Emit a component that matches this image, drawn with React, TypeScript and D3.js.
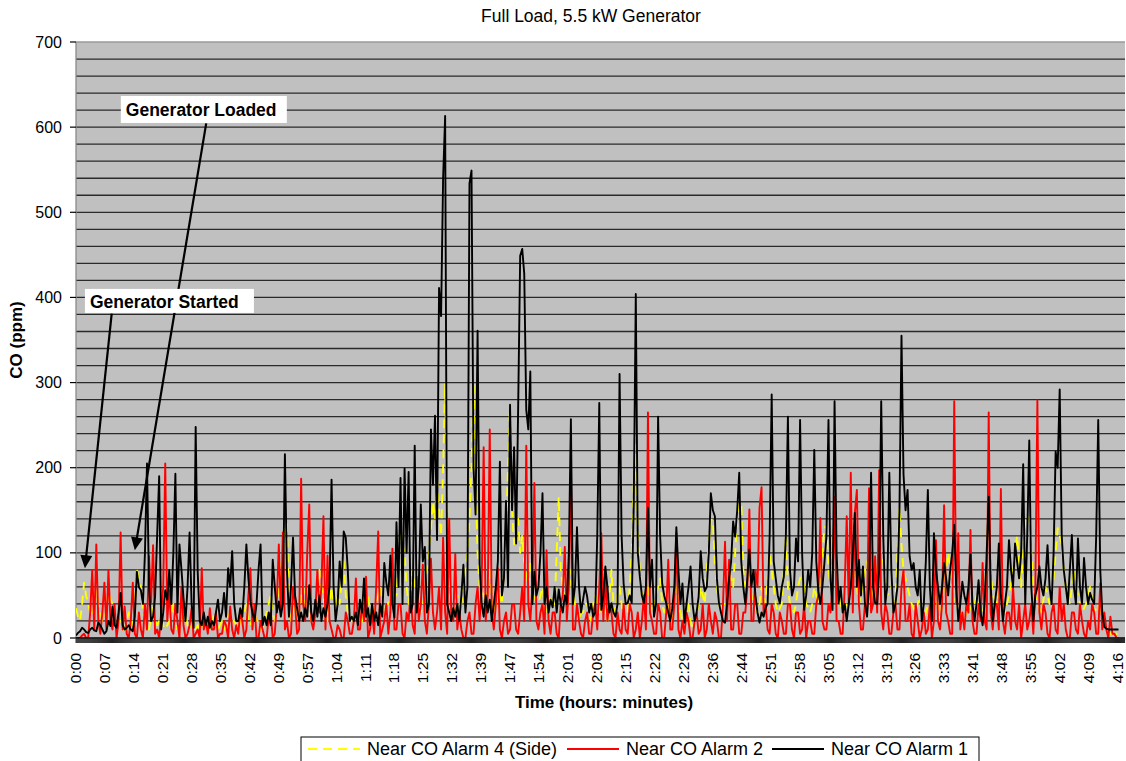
import React from 'react';
import * as d3 from 'd3';

const TITLE = 'Full Load, 5.5 kW Generator';
const X_TITLE = 'Time (hours: minutes)';
const Y_TITLE = 'CO (ppm)';

const xTickLabels = [
  '0:00', '0:07', '0:14', '0:21', '0:28', '0:35', '0:42', '0:49', '0:57', '1:04',
  '1:11', '1:18', '1:25', '1:32', '1:39', '1:47', '1:54', '2:01', '2:08', '2:15',
  '2:22', '2:29', '2:36', '2:44', '2:51', '2:58', '3:05', '3:12', '3:19', '3:26',
  '3:33', '3:41', '3:48', '3:55', '4:02', '4:09', '4:16',
];
const yTickValues = [0, 100, 200, 300, 400, 500, 600, 700];

const SAMPLE_MINUTES = 0.5;
const LABEL_STEP_MINUTES = 7.135;
const X_MAX_MINUTES = 258.6;
const Y_MAX = 700;
const GRID_STEP = 20;

// Near CO Alarm 4 (Side) — yellow dashed, one value every 30 s (10 minutes per row)
const alarm4Side = [
  35, 25, 20, 40, 65, 50, 40, 30, 25, 40, 55, 40, 30, 20, 20, 35, 55, 45, 40, 20,
  15, 20, 20, 10, 10, 20, 30, 20, 15, 40, 80, 70, 60, 30, 20, 15, 10, 25, 40, 20,
  15, 20, 25, 15, 10, 15, 20, 30, 40, 20, 10, 10, 15, 25, 30, 15, 10, 15, 20, 10,
  15, 10, 10, 20, 25, 20, 15, 10, 30, 20, 10, 15, 20, 10, 15, 25, 30, 20, 20, 15,
  10, 20, 25, 30, 40, 20, 15, 25, 30, 20, 20, 10, 10, 20, 30, 40, 50, 30, 20, 40,
  60, 80, 100, 130, 135, 40, 20, 30, 40, 20, 30, 50, 60, 40, 40, 30, 20, 25, 30, 50,
  80, 60, 50, 30, 20, 40, 60, 40, 30, 50, 40, 70, 90, 50, 30, 20, 20, 30, 40, 25,
  15, 20, 30, 40, 50, 30, 20, 30, 40, 50, 60, 40, 30, 40, 40, 60, 70, 50, 50, 90,
  130, 110, 100, 60, 40, 60, 80, 60, 60, 40, 30, 40, 50, 80, 100, 130, 160, 140, 190, 150,
  120, 200, 299, 150, 60, 40, 30, 40, 50, 40, 40, 60, 80, 100, 140, 200, 299, 180, 100, 60,
  60, 50, 40, 60, 80, 50, 30, 40, 60, 50, 40, 80, 120, 200, 274, 150, 110, 120, 140, 100,
  120, 90, 80, 60, 90, 70, 50, 40, 40, 50, 60, 40, 30, 40, 50, 40, 40, 100, 166, 80,
  60, 40, 30, 50, 80, 60, 40, 30, 20, 30, 30, 40, 40, 30, 20, 40, 50, 40, 30, 40,
  40, 30, 20, 50, 80, 40, 30, 50, 60, 40, 20, 25, 30, 60, 100, 180, 227, 120, 80, 50,
  40, 50, 60, 40, 30, 40, 50, 60, 70, 40, 30, 35, 40, 30, 20, 40, 60, 40, 30, 20,
  20, 30, 40, 20, 10, 20, 30, 40, 60, 50, 40, 80, 110, 139, 139, 90, 60, 40, 30, 40,
  40, 60, 80, 70, 60, 100, 140, 159, 159, 80, 60, 70, 80, 50, 40, 35, 30, 40, 60, 50,
  40, 70, 100, 80, 60, 40, 30, 35, 40, 80, 120, 60, 40, 35, 30, 40, 60, 70, 80, 60,
  40, 35, 30, 40, 60, 50, 40, 70, 100, 130, 130, 80, 60, 100, 140, 80, 50, 40, 30, 35,
  40, 50, 60, 70, 80, 60, 40, 50, 60, 80, 90, 70, 60, 50, 40, 80, 110, 100, 90, 70,
  50, 55, 60, 50, 40, 100, 153, 110, 80, 70, 60, 50, 40, 35, 30, 40, 50, 30, 20, 30,
  40, 35, 30, 40, 50, 35, 20, 40, 60, 80, 100, 80, 60, 50, 40, 35, 30, 25, 20, 30,
  40, 35, 30, 40, 50, 35, 20, 30, 40, 100, 155, 80, 50, 45, 40, 50, 60, 45, 30, 40,
  50, 65, 80, 100, 120, 90, 60, 100, 140, 143, 143, 100, 60, 50, 40, 35, 30, 45, 60, 50,
  40, 55, 70, 100, 129, 120, 110, 80, 60, 50, 40, 60, 80, 65, 50, 40, 30, 35, 40, 50,
  60, 45, 30, 35, 40, 30, 20, 15, 10, 8, 5, 5, 5, 5, 5,
];

// Near CO Alarm 2 — red
const alarm2 = [
  0, 0, 0, 3, 5, 0, 0, 30, 80, 10, 110, 20, 5, 30, 65, 10, 80, 20, 10, 40,
  0, 20, 124, 10, 37, 5, 0, 20, 65, 5, 0, 30, 10, 0, 40, 10, 96, 40, 109, 5,
  10, 0, 30, 60, 205, 20, 56, 10, 5, 40, 20, 0, 60, 15, 0, 5, 15, 35, 0, 5,
  10, 0, 82, 10, 20, 5, 35, 10, 10, 30, 0, 5, 5, 20, 15, 0, 37, 10, 0, 15,
  5, 30, 20, 0, 10, 50, 82, 10, 40, 0, 0, 20, 10, 0, 0, 25, 30, 0, 5, 40,
  110, 30, 124, 10, 20, 0, 5, 60, 40, 5, 10, 187, 40, 20, 100, 157, 20, 10, 30, 80,
  30, 60, 143, 10, 97, 20, 10, 0, 0, 15, 10, 0, 0, 30, 20, 5, 5, 20, 70, 10,
  10, 40, 20, 72, 0, 10, 30, 5, 60, 125, 0, 10, 20, 40, 5, 30, 105, 10, 10, 40,
  40, 5, 0, 30, 20, 55, 15, 5, 72, 20, 40, 86, 20, 5, 40, 93, 30, 10, 30, 60,
  10, 118, 30, 5, 140, 30, 20, 99, 10, 30, 10, 0, 0, 20, 30, 5, 5, 40, 60, 20,
  60, 224, 20, 50, 245, 30, 10, 40, 82, 10, 0, 20, 30, 5, 10, 40, 40, 10, 5, 30,
  60, 20, 226, 40, 20, 60, 182, 20, 10, 30, 40, 5, 103, 20, 5, 30, 30, 5, 0, 40,
  50, 107, 20, 60, 195, 10, 10, 40, 20, 5, 0, 20, 30, 5, 5, 30, 40, 10, 60, 123,
  20, 72, 20, 40, 30, 5, 0, 30, 10, 5, 40, 10, 5, 40, 30, 0, 10, 30, 0, 20,
  50, 10, 265, 30, 20, 5, 5, 40, 30, 0, 0, 30, 92, 10, 10, 40, 123, 10, 0, 20,
  5, 30, 20, 0, 0, 20, 30, 5, 10, 40, 0, 10, 40, 20, 5, 30, 20, 0, 0, 40,
  113, 20, 92, 10, 10, 40, 40, 5, 5, 30, 30, 60, 151, 20, 20, 80, 60, 153, 177, 30,
  40, 10, 5, 40, 30, 5, 0, 30, 20, 5, 5, 40, 40, 10, 0, 30, 30, 5, 10, 40,
  0, 20, 20, 5, 5, 40, 50, 141, 20, 10, 10, 40, 30, 60, 166, 20, 20, 5, 5, 60,
  143, 40, 194, 30, 147, 174, 40, 10, 10, 40, 30, 176, 30, 40, 96, 30, 197, 30, 10, 40,
  30, 5, 5, 30, 40, 10, 10, 60, 80, 20, 20, 40, 5, 0, 40, 20, 0, 10, 30, 5,
  10, 40, 0, 20, 115, 20, 10, 40, 156, 30, 20, 5, 5, 278, 40, 123, 10, 30, 10, 40,
  30, 127, 20, 5, 5, 40, 20, 88, 20, 10, 265, 30, 10, 40, 40, 10, 175, 20, 5, 30,
  30, 10, 60, 20, 10, 40, 0, 20, 40, 10, 20, 40, 5, 60, 279, 30, 10, 40, 30, 5,
  0, 30, 40, 10, 5, 60, 20, 40, 10, 0, 0, 30, 30, 10, 5, 40, 20, 5, 0, 20,
  10, 40, 30, 5, 5, 64, 10, 30, 10, 0, 25, 5, 5, 0, 0,
];

// Near CO Alarm 1 — black
const alarm1 = [
  3, 6, 8, 12, 10, 7, 6, 10, 12, 9, 8, 18, 15, 10, 5, 8, 20, 14, 37, 15,
  12, 30, 53, 15, 10, 12, 15, 10, 8, 25, 78, 60, 56, 40, 100, 205, 60, 20, 25, 49,
  120, 190, 10, 30, 56, 45, 80, 40, 100, 193, 30, 110, 80, 47, 20, 60, 124, 40, 12, 248,
  78, 20, 15, 30, 15, 25, 12, 20, 15, 30, 45, 20, 30, 53, 25, 82, 60, 102, 40, 20,
  20, 35, 25, 60, 110, 70, 43, 30, 20, 40, 80, 110, 15, 25, 15, 30, 15, 92, 60, 30,
  43, 25, 40, 216, 80, 25, 60, 118, 50, 35, 20, 30, 20, 35, 25, 62, 30, 20, 45, 25,
  50, 20, 35, 25, 40, 60, 186, 60, 20, 40, 90, 60, 125, 118, 80, 20, 25, 20, 30, 15,
  45, 30, 70, 25, 35, 15, 40, 20, 30, 15, 40, 25, 88, 65, 50, 97, 40, 24, 136, 60,
  188, 40, 199, 100, 195, 30, 40, 226, 30, 60, 157, 90, 107, 30, 40, 245, 180, 261, 115, 411,
  378, 540, 613, 40, 30, 20, 35, 25, 40, 20, 50, 86, 30, 60, 534, 549, 200, 145, 361, 86,
  40, 25, 50, 30, 45, 20, 40, 60, 90, 207, 50, 70, 161, 60, 274, 150, 224, 111, 270, 449,
  457, 428, 268, 245, 313, 40, 78, 50, 60, 100, 170, 40, 60, 30, 45, 36, 60, 30, 57, 40,
  30, 50, 40, 100, 257, 40, 60, 130, 60, 30, 45, 60, 49, 30, 40, 25, 30, 120, 276, 33,
  50, 84, 60, 30, 41, 30, 25, 40, 310, 120, 64, 40, 41, 50, 41, 158, 404, 100, 72, 50,
  41, 60, 153, 60, 92, 25, 40, 260, 120, 64, 50, 41, 30, 20, 35, 60, 130, 80, 40, 64,
  18, 40, 60, 84, 40, 20, 30, 49, 102, 70, 55, 60, 100, 170, 150, 143, 70, 41, 30, 20,
  18, 40, 70, 90, 137, 119, 150, 194, 90, 60, 40, 70, 104, 60, 80, 50, 30, 18, 30, 25,
  35, 41, 120, 286, 90, 70, 50, 41, 60, 72, 120, 260, 80, 50, 60, 117, 90, 256, 100, 33,
  50, 80, 60, 100, 221, 90, 55, 40, 60, 88, 120, 256, 70, 33, 278, 100, 41, 60, 30, 40,
  20, 40, 60, 100, 147, 60, 92, 50, 84, 40, 25, 60, 194, 60, 41, 40, 80, 278, 120, 40,
  60, 194, 80, 30, 40, 60, 150, 355, 192, 150, 174, 96, 80, 88, 60, 50, 80, 20, 40, 90,
  174, 60, 20, 123, 80, 60, 40, 60, 88, 70, 50, 80, 100, 133, 60, 20, 40, 66, 50, 40,
  60, 98, 40, 20, 40, 68, 30, 15, 40, 100, 166, 60, 20, 40, 60, 111, 50, 20, 40, 60,
  115, 80, 60, 111, 90, 70, 100, 204, 40, 120, 232, 60, 20, 50, 60, 84, 60, 50, 70, 109,
  60, 40, 100, 219, 200, 292, 120, 80, 60, 40, 80, 121, 60, 40, 117, 60, 40, 94, 60, 40,
  53, 45, 40, 120, 256, 80, 30, 13, 11, 10, 10, 10, 10, 10, 10,
];

const seriesDefs = [
  { name: 'Near CO Alarm 4 (Side)', values: alarm4Side, color: '#ffff00', dash: '9,6' as string | null },
  { name: 'Near CO Alarm 2', values: alarm2, color: '#ff0000', dash: null as string | null },
  { name: 'Near CO Alarm 1', values: alarm1, color: '#000000', dash: null as string | null },
];

const annotations = [
  { text: 'Generator Loaded', boxT: 11.05, boxV: 636.6, boxW: 166, boxH: 27, baseline: 20, tailT: 32.1, tailV: 604.5, tipT: 14.5, tipV: 103 },
  { text: 'Generator Started', boxT: 2.2, boxV: 410, boxW: 169, boxH: 24, baseline: 19, tailT: 8.8, tailV: 381, tipT: 2.2, tipV: 82 },
];

const FONT = '"Liberation Sans", Arial, Helvetica, sans-serif';

export default function App() {
  const W = 1126;
  const H = 761;
  const plot = { left: 76, right: 1125, top: 42, bottom: 638 };

  const x = d3.scaleLinear().domain([0, X_MAX_MINUTES]).range([plot.left, plot.right]);
  const y = d3.scaleLinear().domain([0, Y_MAX]).range([plot.bottom, plot.top]);

  const gridValues = d3.range(GRID_STEP, Y_MAX, GRID_STEP);
  const lineGen = d3
    .line<number>()
    .x((_, i) => x(i * SAMPLE_MINUTES))
    .y((d) => y(d));

  const catTicks = d3.range(0, X_MAX_MINUTES, 0.25);
  const catTickPath = catTicks
    .map((t) => `M${x(t).toFixed(2)},${plot.bottom}V${plot.bottom + 5}`)
    .join('');

  const legend = { left: 301, top: 737, right: 979, lineY: 749 };
  const legendItems = [
    { lx: 308, tx: 367 },
    { lx: 567, tx: 626 },
    { lx: 772, tx: 831 },
  ];

  return (
    <svg
      width={W}
      height={H}
      style={{ position: 'absolute', left: 0, top: 0, background: '#ffffff' }}
      fontFamily={FONT}
    >
      <defs>
        <clipPath id="plotClip">
          <rect x={plot.left} y={plot.top - 2} width={plot.right - plot.left} height={plot.bottom - plot.top + 2} />
        </clipPath>
      </defs>
      <rect x={0} y={0} width={W} height={H} fill="#ffffff" />

      <text x={591} y={22} textAnchor="middle" fontSize={17.5} fill="#000">
        {TITLE}
      </text>

      <rect
        x={plot.left}
        y={plot.top}
        width={plot.right - plot.left}
        height={plot.bottom - plot.top}
        fill="#c0c0c0"
      />

      {gridValues.map((v) => (
        <line
          key={v}
          x1={plot.left}
          x2={plot.right}
          y1={y(v)}
          y2={y(v)}
          stroke="#2a2a2a"
          strokeWidth={1.3}
        />
      ))}
      <line x1={plot.left} x2={plot.right} y1={y(Y_MAX)} y2={y(Y_MAX)} stroke="#9a9a9a" strokeWidth={1.3} />
      <line x1={plot.left} x2={plot.left} y1={plot.top} y2={plot.bottom} stroke="#8a8a8a" strokeWidth={1.3} />

      {yTickValues.map((v) => (
        <g key={v}>
          <line x1={plot.left - 6} x2={plot.left} y1={y(v)} y2={y(v)} stroke="#000" strokeWidth={1.2} />
          <text x={62} y={y(v)} dy="0.35em" textAnchor="end" fontSize={16} fill="#000">
            {v}
          </text>
        </g>
      ))}

      <g clipPath="url(#plotClip)">
        {seriesDefs.map((s) => (
          <path
            key={s.name}
            d={lineGen(s.values) || ''}
            fill="none"
            stroke={s.color}
            strokeWidth={1.9}
            strokeDasharray={s.dash || undefined}
            strokeLinejoin="round"
          />
        ))}
      </g>

      <line x1={plot.left} x2={plot.right} y1={plot.bottom} y2={plot.bottom} stroke="#000" strokeWidth={1.5} />
      <path d={catTickPath} stroke="#333" strokeWidth={1} fill="none" />
      <rect x={plot.left} y={plot.bottom} width={plot.right - plot.left} height={5} fill="#000" opacity={0.35} />

      {xTickLabels.map((lab, k) => {
        const px = x(k * LABEL_STEP_MINUTES);
        return (
          <text
            key={lab}
            transform={`translate(${px},653) rotate(-90)`}
            dy="0.33em"
            textAnchor="end"
            fontSize={15.5}
            fill="#000"
          >
            {lab}
          </text>
        );
      })}

      <text x={604} y={708} textAnchor="middle" fontSize={17} fontWeight="bold" fill="#000">
        {X_TITLE}
      </text>
      <text
        transform={`translate(22,${(plot.top + plot.bottom) / 2}) rotate(-90)`}
        textAnchor="middle"
        fontSize={17}
        fontWeight="bold"
        fill="#000"
      >
        {Y_TITLE}
      </text>

      {annotations.map((a) => {
        const bx = x(a.boxT);
        const by = y(a.boxV);
        const tx = x(a.tailT);
        const ty = y(a.tailV);
        const px = x(a.tipT);
        const py = y(a.tipV);
        const dx = px - tx;
        const dy = py - ty;
        const len = Math.sqrt(dx * dx + dy * dy);
        const ux = dx / len;
        const uy = dy / len;
        const headL = 13;
        const headW = 6;
        const bxp = px - ux * headL;
        const byp = py - uy * headL;
        const head = `M${px},${py}L${bxp - uy * headW},${byp + ux * headW}L${bxp + uy * headW},${byp - ux * headW}Z`;
        return (
          <g key={a.text}>
            <rect x={bx} y={by} width={a.boxW} height={a.boxH} fill="#ffffff" />
            <text x={bx + 5} y={by + a.baseline} fontSize={17.5} fontWeight="bold" fill="#000">
              {a.text}
            </text>
            <line x1={tx} y1={ty} x2={bxp + ux * 2} y2={byp + uy * 2} stroke="#000" strokeWidth={2.2} />
            <path d={head} fill="#000" />
          </g>
        );
      })}

      <rect
        x={legend.left}
        y={legend.top}
        width={legend.right - legend.left}
        height={40}
        fill="#ffffff"
        stroke="#000"
        strokeWidth={1}
      />
      {seriesDefs.map((s, i) => (
        <g key={s.name}>
          <line
            x1={legendItems[i].lx}
            x2={legendItems[i].lx + 52}
            y1={legend.lineY}
            y2={legend.lineY}
            stroke={s.color}
            strokeWidth={2}
            strokeDasharray={s.dash || undefined}
          />
          <text x={legendItems[i].tx} y={legend.lineY} dy="0.35em" fontSize={18} fill="#000">
            {s.name}
          </text>
        </g>
      ))}
    </svg>
  );
}
